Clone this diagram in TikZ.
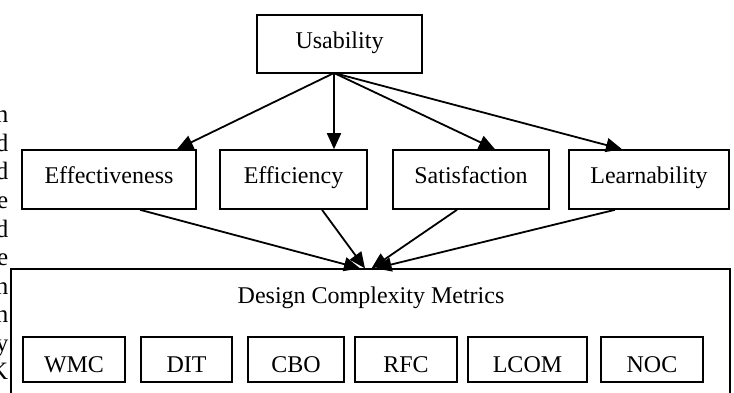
\documentclass[tikz,border=0pt]{standalone}
\usepackage{fontspec}
\setmainfont{Liberation Serif}
\usetikzlibrary{arrows.meta,calc}
\begin{document}
\begin{tikzpicture}[x=1pt,y=-1pt,
  txt/.style={font=\fontsize{24}{28}\selectfont},
  box/.style={txt,draw,line width=1.6pt,inner sep=0pt,minimum height=59pt,
    text height=17pt,text depth=8pt},
  metric/.style={box,minimum height=45pt,text height=25pt,text depth=0pt},
  bigbox/.style={draw,line width=1.3pt,inner sep=0pt},
  side/.style={font=\fontsize{25}{28}\selectfont,inner sep=0pt,anchor=base east},
  conn/.style={line width=1.8pt,-{Triangle[length=16pt,width=14pt]}}]
\useasboundingbox (0,0) rectangle (734,393);

% fragments of the neighbouring text column
\foreach \t [count=\i] in {n,d,d,e,d,e,n,n,y,K}
  \node[side] (side\i) at (8.5,{123+28.5*(\i-1)}) {\t};

% top level
\node[box,minimum width=165pt,minimum height=58pt] (usab) at (339.5,44) {Usability};
\coordinate (fan) at (334,73);

% quality attributes
\node[box,minimum width=174pt] (effe) at (109,179.5) {Effectiveness};
\node[box,minimum width=147pt] (effi) at (293.5,179.5) {Efficiency};
\node[box,minimum width=156pt] (sati) at (471,179.5) {Satisfaction};
\node[box,minimum width=160pt] (lear) at (649,179.5) {Learnability};

% metrics container (continues below the page)
\node[bigbox,minimum width=719pt,minimum height=160pt] (dcm) at (370.5,349) {};
\node[txt] (dcmtitle) at (371,298) {Design Complexity Metrics};

\node[metric,minimum width=102pt] (wmc) at (74,359.5) {WMC};
\node[metric,minimum width=91pt] (dit) at (186.5,359.5) {DIT};
\node[metric,minimum width=96pt] (cbo) at (296,359.5) {CBO};
\node[metric,minimum width=102pt] (rfc) at (406,359.5) {RFC};
\node[metric,minimum width=119pt] (lcom) at (527.5,359.5) {LCOM};
\node[metric,minimum width=102pt] (noc) at (652,359.5) {NOC};

% usability to its attributes
\draw[conn] (fan) -- ($(effe.north)+(68,0)$);
\draw[conn] (fan) -- ($(effi.north)+(40.5,0)$);
\draw[conn] (fan) -- ($(sati.north)+(24,0)$);
\draw[conn] (fan) -- ($(lear.north)+(-27,0)$);

% attributes to the metrics
\draw[conn] ($(effe.south)+(31,0)$) -- ($(dcm.north)+(-10.5,0)$);
\draw[conn] ($(effi.south)+(28.5,0)$) -- ($(dcm.north)+(-5.5,0)$);
\draw[conn] ($(sati.south)+(-14,0)$) -- ($(dcm.north)+(1,0)$);
\draw[conn] ($(lear.south)+(-34,0)$) -- ($(dcm.north)+(5,0)$);
\end{tikzpicture}
\end{document}
